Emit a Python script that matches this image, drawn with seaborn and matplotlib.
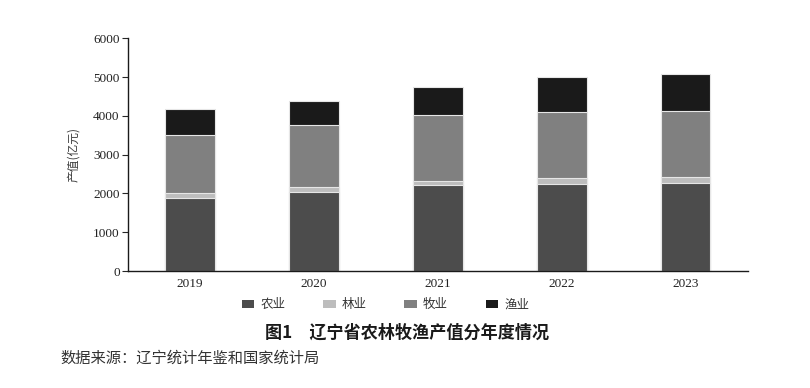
import pandas as pd
import seaborn as sns
from matplotlib import pyplot as plt
from matplotlib.patches import Patch

# 数据（亿元）
years = ["2019", "2020", "2021", "2022", "2023"]
agriculture = [1885, 2032, 2213, 2246, 2264]
forestry = [121, 137, 111, 147, 155]
livestock = [1498, 1608, 1712, 1720, 1704]
fishery = [663, 620, 707, 888, 956]

sectors = ["农业", "林业", "牧业", "渔业"]
colors = ["#4c4c4c", "#bdbdbd", "#808080", "#1a1a1a"]

sns.set_theme(style="ticks")
plt.rcParams["font.family"] = ["Noto Sans CJK SC", "DejaVu Sans"]

df = pd.DataFrame({"year": years, "农业": agriculture, "林业": forestry,
                   "牧业": livestock, "渔业": fishery})
cum = df[sectors].cumsum(axis=1)
cum["year"] = df["year"]

fig = plt.figure(figsize=(8.1, 3.88), dpi=100)
ax = fig.add_axes([0.158, 0.3015, 0.765, 0.5995])

# 堆叠柱：先画累计最高的，再依次覆盖
for name, color in reversed(list(zip(sectors, colors))):
    sns.barplot(x="year", y=name, data=cum, color=color, saturation=1, width=0.4,
                edgecolor="#e6e6e6", linewidth=0.8, ax=ax)

ax.set_ylim(0, 6000)
ax.set_xlim(-0.5, 4.5)
ax.set_yticks(range(0, 6001, 1000))
ax.set_xlabel("")
ax.set_ylabel("产值(亿元)", fontsize=8.5, color="#3a3a3a", labelpad=9)
ax.tick_params(axis="x", length=0, pad=5)
ax.tick_params(axis="y", length=4, width=0.8, pad=2)
for lab in ax.get_xticklabels() + ax.get_yticklabels():
    lab.set_fontfamily("Liberation Serif")
    lab.set_fontsize(9.5)
    lab.set_color("#222222")
sns.despine(ax=ax)
for s in ["left", "bottom"]:
    ax.spines[s].set_color("#1a1a1a")
    ax.spines[s].set_linewidth(1.0)

handles = [Patch(facecolor=c, edgecolor="none", label=n) for n, c in zip(sectors, colors)]
fig.legend(handles=handles, loc="center", bbox_to_anchor=(0.476, 0.214), ncol=4,
           frameon=False, fontsize=9, handlelength=1.0, handleheight=0.6,
           handletextpad=0.5, columnspacing=3.0, labelcolor="#333333")

fig.text(0.502, 0.142, "图1　辽宁省农林牧渔产值分年度情况", ha="center", va="center",
         fontsize=12.3, fontweight="bold", color="#1a1a1a")
fig.text(0.074, 0.077, "数据来源：辽宁统计年鉴和国家统计局", ha="left", va="center",
         fontsize=11, color="#333333")

plt.savefig("out.png", dpi=100)
